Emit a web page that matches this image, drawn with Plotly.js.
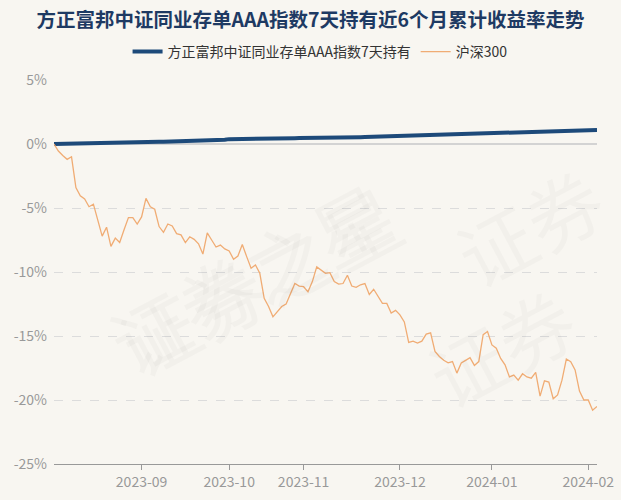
<!DOCTYPE html>
<html>
<head>
<meta charset="utf-8">
<script src="https://cdn.plot.ly/plotly-3.0.1.min.js"></script>
<style>html,body{margin:0;padding:0;background:#f8f6f1;}#chart{width:621px;height:500px;}</style>
</head>
<body>
<div id="chart"></div>
<script>
// Trading-day calendar (weekdays minus exchange holidays)
const startDate = '2023-08-04';
const endDate = '2024-02-05';
const holidays = ['2023-09-29','2023-10-02','2023-10-03','2023-10-04','2023-10-05','2023-10-06','2024-01-01'];

const seriesFundName = '方正富邦中证同业存单AAA指数7天持有';
const seriesIndexName = '沪深300';

// cumulative return, %
const fundReturn = [
  0, 0.01, 0.02, 0.03, 0.03, 0.04, 0.05, 0.06, 0.07, 0.07, 0.08,
  0.09, 0.10, 0.10, 0.11, 0.12, 0.12, 0.13, 0.14, 0.14, 0.15,
  0.15, 0.16, 0.16, 0.17, 0.17, 0.18, 0.18, 0.19, 0.19, 0.20,
  0.20, 0.21, 0.22, 0.22, 0.23, 0.24, 0.25, 0.25, 0.33, 0.38,
  0.38, 0.39, 0.39, 0.40, 0.40, 0.41, 0.41, 0.42, 0.42, 0.43,
  0.43, 0.44, 0.44, 0.45, 0.45, 0.46, 0.46, 0.47, 0.47, 0.48,
  0.48, 0.49, 0.49, 0.50, 0.50, 0.51, 0.52, 0.52, 0.53, 0.53,
  0.54, 0.55, 0.55, 0.56, 0.57, 0.57, 0.58, 0.59, 0.60, 0.61,
  0.62, 0.63, 0.64, 0.65, 0.66, 0.68, 0.70, 0.71, 0.73, 0.74,
  0.76, 0.77, 0.78, 0.80, 0.81, 0.83, 0.84, 0.85, 0.86, 0.87,
  0.88, 0.89, 0.90, 0.90, 0.91, 0.92, 0.93, 0.94, 0.94, 0.95,
  0.96, 0.97, 0.98, 0.99, 1.00, 1.01, 1.02, 1.03, 1.04, 1.05,
  1.06, 1.08, 1.09, 1.10
];

const indexReturn = [
  0, -0.55, -0.9, -1.2, -1.0, -3.4, -4.05, -4.3, -4.9, -4.7,
  -5.95, -7.2, -6.5, -8.0, -7.35, -7.7, -6.7, -5.75, -5.75, -6.25,
  -5.7, -4.25, -4.9, -5.1, -6.45, -6.9, -6.25, -6.4, -7.0, -7.1,
  -7.7, -7.25, -7.45, -7.8, -8.6, -6.95, -7.5, -8.05, -7.9, -8.2,
  -8.35, -9.0, -8.75, -7.85, -8.8, -9.7, -9.45, -10.1, -12.05, -12.7,
  -13.5, -13.1, -12.7, -12.5, -11.65, -10.9, -11.1, -11.15, -11.55, -10.75,
  -9.6, -9.85, -10.1, -10.05, -10.75, -10.95, -10.9, -10.25, -11.1, -11.2,
  -11.0, -10.9, -11.75, -11.35, -11.95, -12.45, -12.45, -13.2, -13.0, -13.35,
  -13.9, -15.5, -15.4, -15.55, -15.4, -14.85, -14.75, -16.2, -16.6, -16.9,
  -17.1, -17.0, -17.9, -17.1, -16.9, -16.7, -17.3, -17.0, -14.9, -14.65,
  -15.7, -15.95, -16.75, -17.25, -18.2, -18.05, -18.45, -17.95, -18.2, -18.3,
  -17.85, -19.7, -18.5, -18.6, -19.9, -19.6, -18.45, -16.8, -17.0, -17.65,
  -19.3, -20.0, -20.0, -20.8, -20.5
];

const tickDates = ['2023-09-01','2023-10-09','2023-11-01','2023-12-01','2024-01-02','2024-02-01'];
const tickLabels = ['2023-09','2023-10','2023-11','2023-12','2024-01','2024-02'];
const yTicks = [5, 0, -5, -10, -15, -20, -25];
const yTickLabels = ['5%', '0%', '-5%', '-10%', '-15%', '-20%', '-25%'];

function tradingDays(s, e, hol) {
  const out = [];
  const d = new Date(s + 'T00:00:00Z');
  const end = new Date(e + 'T00:00:00Z');
  while (d <= end) {
    const wd = d.getUTCDay();
    const iso = d.toISOString().slice(0, 10);
    if (wd !== 0 && wd !== 6 && hol.indexOf(iso) < 0) out.push(iso);
    d.setUTCDate(d.getUTCDate() + 1);
  }
  return out;
}
const dates = tradingDays(startDate, endDate, holidays);

const font = '"Noto Sans CJK SC", "Noto Sans", sans-serif';

const traces = [
  {
    x: dates, y: fundReturn, name: seriesFundName, type: 'scatter', mode: 'lines',
    line: {color: '#1d4a7a', width: 4}, hoverinfo: 'skip'
  },
  {
    x: dates, y: indexReturn, name: seriesIndexName, type: 'scatter', mode: 'lines',
    line: {color: '#f0ac74', width: 1.3}, hoverinfo: 'skip'
  }
];

const wmStyle = {size: 76, color: 'rgba(0,0,0,0.025)', family: font};
const watermarks = [
  {x: 0.38, y: 0.80, text: '证券之星'},
  {x: 0.36, y: 0.17, text: '证券之星'},
  {x: 1.05, y: 0.62, text: '证券'},
  {x: 1.0, y: 0.08, text: '证券'}
].map(w => ({xref: 'paper', yref: 'paper', x: w.x, y: w.y, text: w.text, showarrow: false,
  textangle: -28, font: wmStyle}));

const layout = {
  width: 621, height: 500,
  paper_bgcolor: '#f8f6f1', plot_bgcolor: '#f8f6f1',
  margin: {l: 54, r: 24, t: 80, b: 36},
  font: {family: font, color: '#999', size: 14},
  title: {
    text: '<b>方正富邦中证同业存单AAA指数7天持有近6个月累计收益率走势</b>',
    x: 0.5, xanchor: 'center', y: 0.96, yref: 'container', yanchor: 'middle',
    font: {family: font, size: 19.5, color: '#1e3a63'}
  },
  showlegend: true,
  legend: {
    orientation: 'h', x: 0.49, xanchor: 'center', y: 1.073, yanchor: 'middle',
    font: {family: font, size: 14, color: '#333'}, bgcolor: 'rgba(0,0,0,0)'
  },
  xaxis: {
    type: 'category', range: [0, dates.length - 1],
    tickmode: 'array', tickvals: tickDates, ticktext: tickLabels,
    showgrid: false, zeroline: false,
    showline: true, linecolor: '#999', linewidth: 1,
    ticks: 'outside', ticklen: 5, tickcolor: '#999',
    tickfont: {family: font, size: 14, color: '#999'}, fixedrange: true
  },
  yaxis: {
    range: [-25, 5], tickmode: 'array', tickvals: yTicks, ticktext: yTickLabels,
    showgrid: true, gridcolor: '#dcdcdc', griddash: 'dash', gridwidth: 1,
    zeroline: true, zerolinecolor: '#d3d3d3', zerolinewidth: 2,
    showline: false, ticks: '', ticklabelstandoff: 6,
    tickfont: {family: font, size: 14, color: '#999'}, fixedrange: true
  },
  annotations: watermarks
};

Plotly.newPlot('chart', traces, layout, {displayModeBar: false, staticPlot: true});
</script>
</body>
</html>
